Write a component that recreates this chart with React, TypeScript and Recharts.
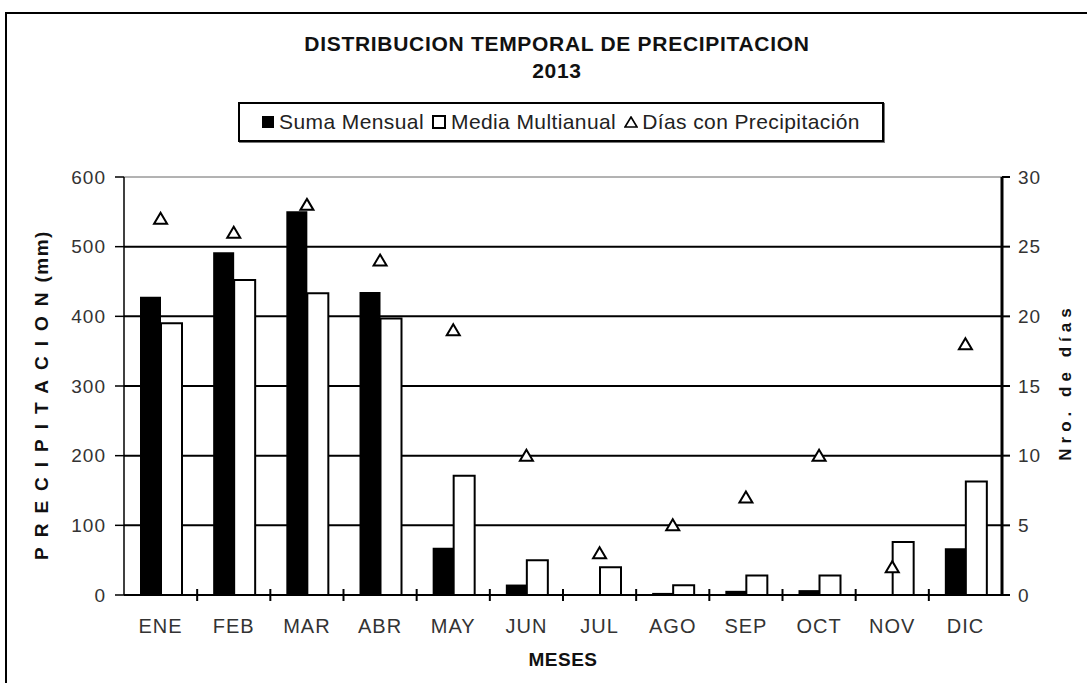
import React from "react";
import { ComposedChart, Bar, Line, XAxis, YAxis, CartesianGrid, ReferenceLine } from "recharts";

const meses = ["ENE", "FEB", "MAR", "ABR", "MAY", "JUN", "JUL", "AGO", "SEP", "OCT", "NOV", "DIC"];
const sumaMensual = [428, 492, 551, 435, 68, 15, 0, 3, 6, 7, 0, 67];
const mediaMultianual = [390, 452, 433, 397, 171, 50, 40, 14, 28, 28, 76, 163];
const diasPrecip = [27, 26, 28, 24, 19, 10, 3, 5, 7, 10, 2, 18];
const precipTicks = [0, 100, 200, 300, 400, 500, 600];
const gridValues = [100, 200, 300, 400, 500];
const diasTicks = [0, 5, 10, 15, 20, 25, 30];

const data = meses.map((m, i) => ({ mes: m, suma: sumaMensual[i], media: mediaMultianual[i], dias: diasPrecip[i] }));

const FONT = "'Liberation Sans', Arial, sans-serif";

const Triangle = (p: any) => {
  const { cx, cy } = p;
  if (cx == null || cy == null) return null;
  return <path d={`M${cx},${cy - 6} L${cx + 6.5},${cy + 5} L${cx - 6.5},${cy + 5} Z`} fill="#fff" stroke="#000" strokeWidth={2} />;
};

const MonthTick = (p: any) => {
  const { x, y, payload, index } = p;
  const half = payload.offset || 36.6;
  return (
    <g>
      {index < meses.length - 1 && <line x1={x + half} x2={x + half} y1={y - 6} y2={y + 6} stroke="#000" strokeWidth={2} />}
      <text x={x} y={y + 38} textAnchor="middle" fontSize={20} letterSpacing={1} fill="#333" fontFamily={FONT}>{payload.value}</text>
    </g>
  );
};

const LegendBox = () => (
  <div style={{ position: "absolute", left: 238, top: 102, width: 642, height: 36, border: "2px solid #000", boxShadow: "1px 1px 0 #777", display: "flex", alignItems: "center", justifyContent: "center", gap: 8, fontSize: 21, letterSpacing: 0.4, color: "#222", fontFamily: FONT, background: "#fff" }}>
    <span style={{ display: "flex", alignItems: "center", gap: 5 }}>
      <span style={{ width: 12, height: 12, background: "#000", display: "inline-block" }} />Suma Mensual
    </span>
    <span style={{ display: "flex", alignItems: "center", gap: 5 }}>
      <span style={{ width: 10, height: 10, border: "2px solid #000", display: "inline-block" }} />Media Multianual
    </span>
    <span style={{ display: "flex", alignItems: "center", gap: 4 }}>
      <svg width={14} height={12}><path d="M7,1 L13,11 L1,11 Z" fill="#fff" stroke="#000" strokeWidth={1.6} /></svg>Días con Precipitación
    </span>
  </div>
);

export default function App() {
  return (
    <div style={{ position: "absolute", left: 0, top: 0, width: 1087, height: 683, overflow: "hidden", background: "#fff", fontFamily: FONT }}>
      <div style={{ position: "absolute", left: 5, top: 12, width: 1100, height: 700, border: "2px solid #000" }} />
      <div style={{ position: "absolute", left: 0, width: 1114, top: 30, textAlign: "center", fontWeight: "bold", fontSize: 21, letterSpacing: 0.7, lineHeight: "27px", color: "#111" }}>
        DISTRIBUCION TEMPORAL DE PRECIPITACION<br />2013
      </div>
      <LegendBox />
      <div style={{ position: "absolute", left: 42, top: 395, transform: "translate(-50%,-50%) rotate(-90deg)", whiteSpace: "nowrap", fontWeight: "bold", fontSize: 19, color: "#111" }}>
        <span style={{ letterSpacing: 10 }}>PRECIPITACION</span><span style={{ letterSpacing: 1.5 }}>(mm)</span>
      </div>
      <div style={{ position: "absolute", left: 1066, top: 382, transform: "translate(-50%,-50%) rotate(-90deg)", whiteSpace: "nowrap", fontWeight: "bold", fontSize: 17, letterSpacing: 5, color: "#111" }}>
        Nro. de días
      </div>
      <div style={{ position: "absolute", left: 0, width: 1126, top: 649, textAlign: "center", fontWeight: "bold", fontSize: 19, letterSpacing: 0.5, color: "#111" }}>
        MESES
      </div>
      <div style={{ position: "absolute", left: 0, top: 0 }}>
        <ComposedChart width={1087} height={683} data={data} margin={{ top: 177, right: 35, bottom: 48, left: 64 }} barGap={0} barSize={21}>
          <CartesianGrid yAxisId="left" vertical={false} stroke="#000" strokeWidth={2} horizontalValues={gridValues} />
          <XAxis dataKey="mes" height={40} tickSize={0} tickMargin={0} axisLine={{ stroke: "#000", strokeWidth: 2 }} tickLine={false} tick={<MonthTick />} interval={0} />
          <YAxis yAxisId="left" width={60} domain={[0, 600]} ticks={precipTicks} interval={0}
            axisLine={{ stroke: "#000", strokeWidth: 1.5 }} tickLine={{ stroke: "#000", strokeWidth: 1.5 }} tickSize={9} tickMargin={9}
            tick={{ fontSize: 19, letterSpacing: 1, fill: "#333", fontFamily: FONT }} />
          <YAxis yAxisId="right" orientation="right" width={50} domain={[0, 30]} ticks={diasTicks} interval={0}
            axisLine={{ stroke: "#000", strokeWidth: 3 }} tickLine={{ stroke: "#000", strokeWidth: 2 }} tickSize={8} tickMargin={8}
            tick={{ fontSize: 19, letterSpacing: 1, fill: "#333", fontFamily: FONT, textAnchor: "start" }} />
          <ReferenceLine yAxisId="left" y={600} stroke="#666" strokeWidth={1} />
          <Bar yAxisId="left" dataKey="suma" name="Suma Mensual" fill="#000" isAnimationActive={false} />
          <Bar yAxisId="left" dataKey="media" name="Media Multianual" fill="#fff" stroke="#000" strokeWidth={2} isAnimationActive={false} />
          <Line yAxisId="right" dataKey="dias" name="Días con Precipitación" stroke="none" dot={<Triangle />} activeDot={false} isAnimationActive={false} />
        </ComposedChart>
      </div>
    </div>
  );
}
